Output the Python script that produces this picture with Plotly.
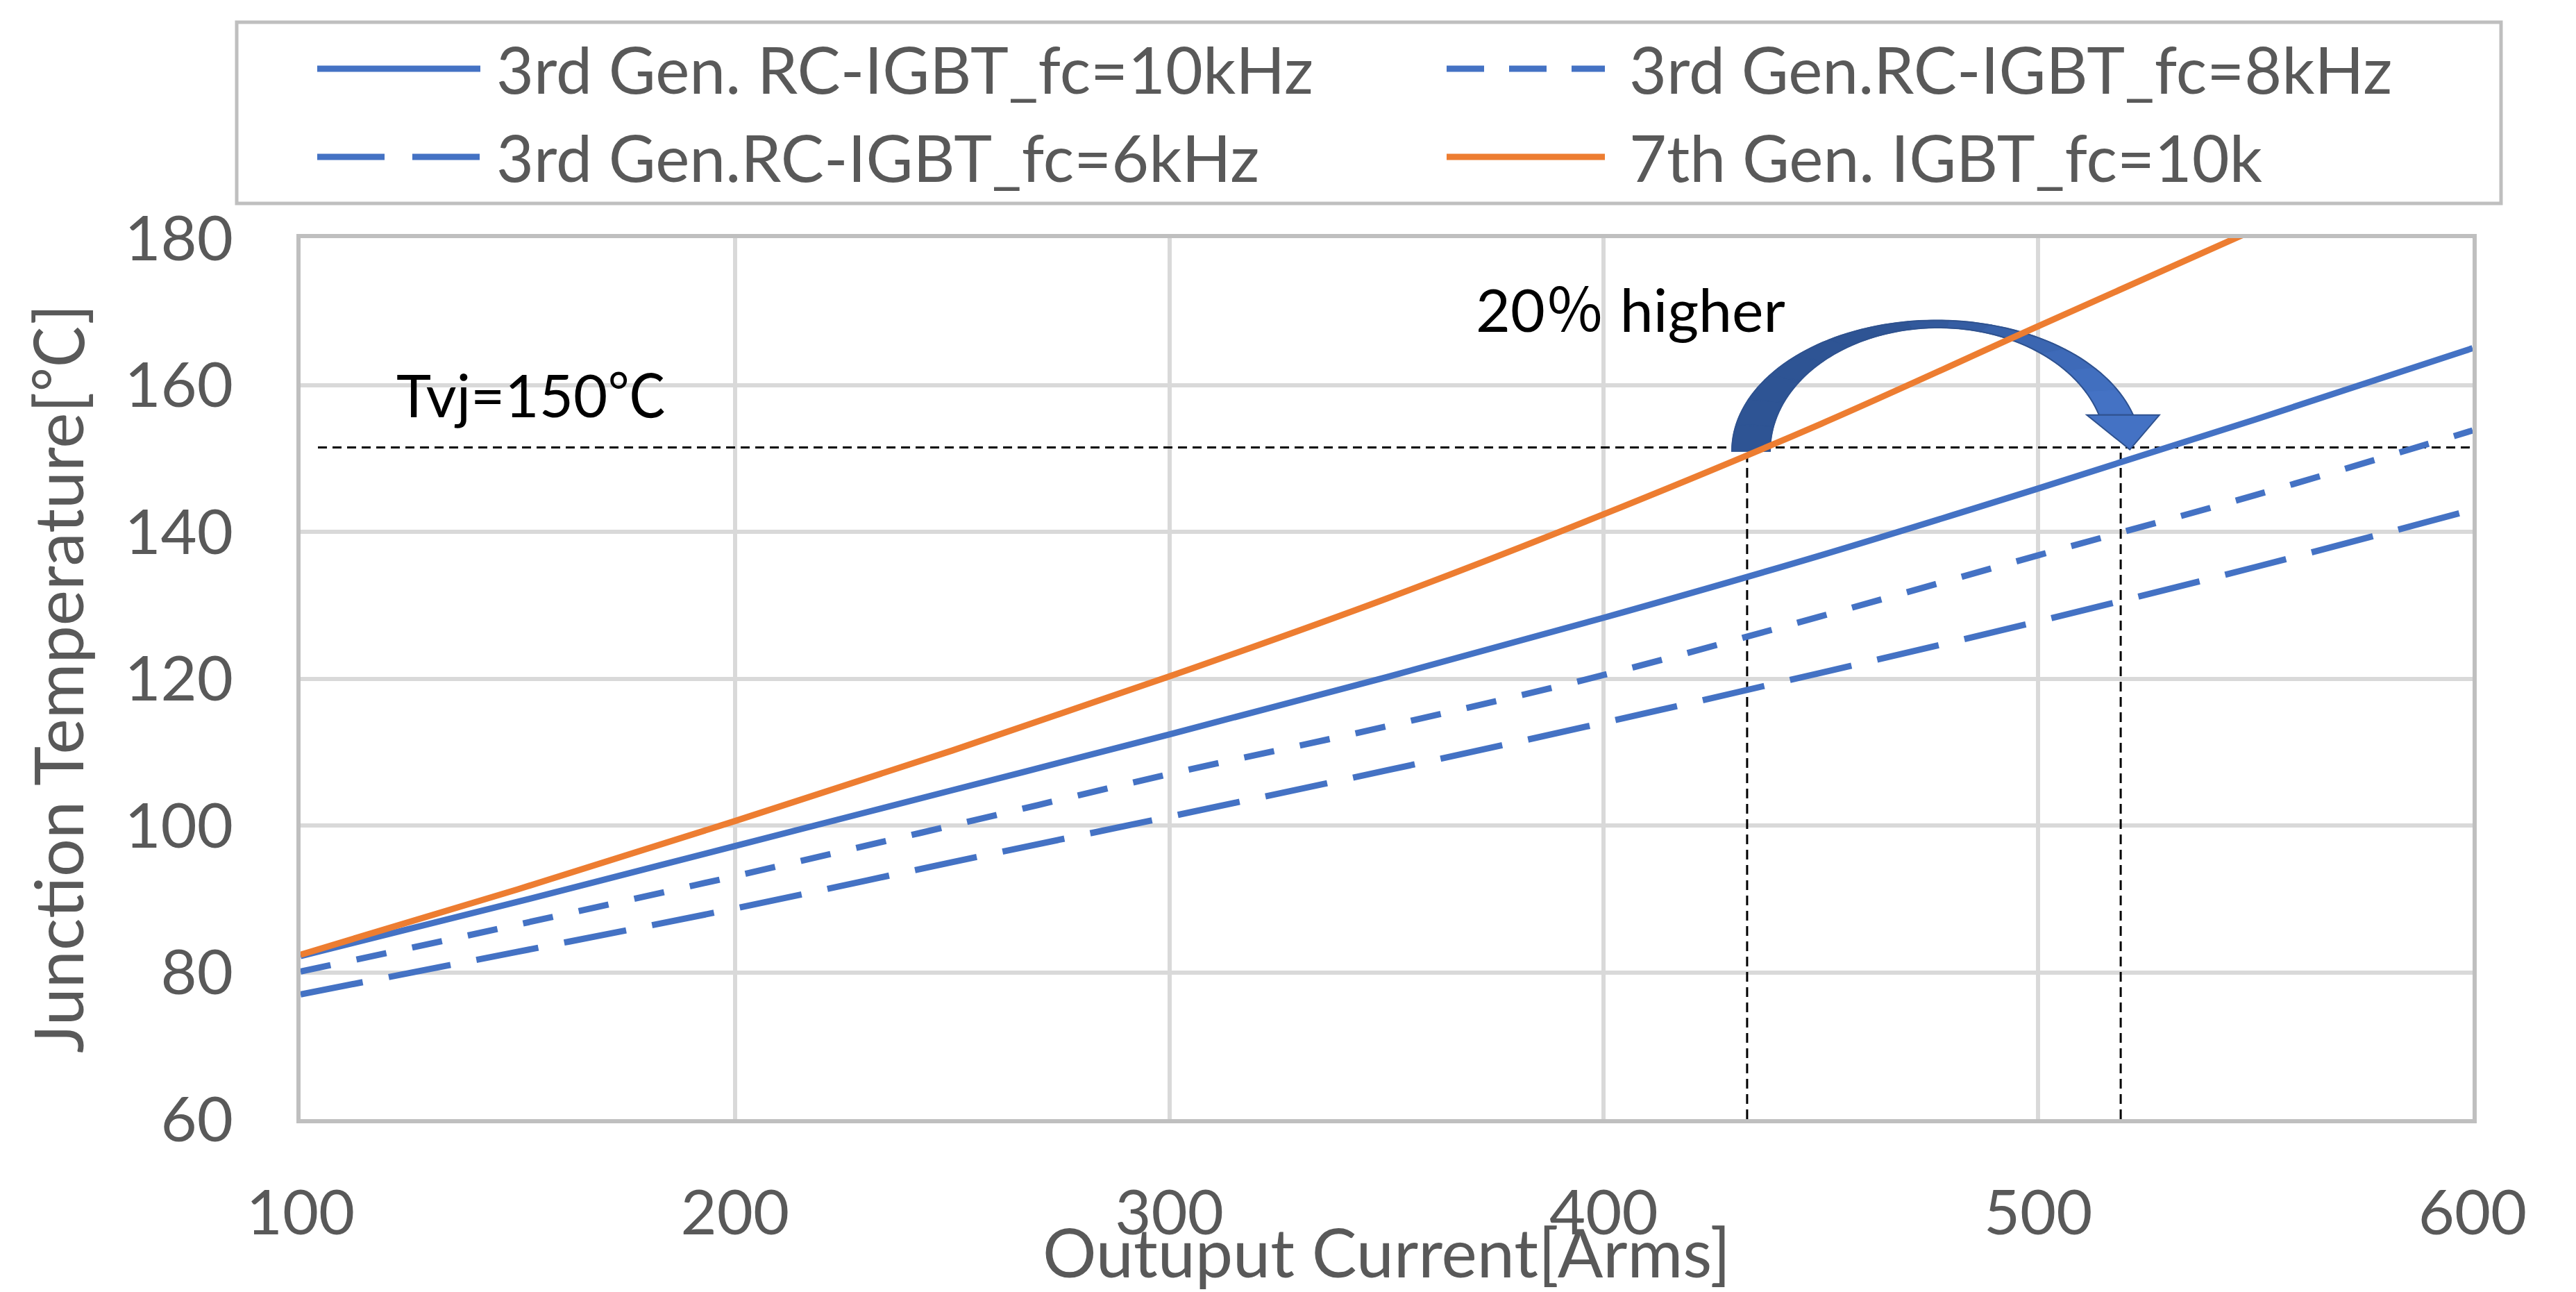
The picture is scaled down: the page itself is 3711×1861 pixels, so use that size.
import numpy as np
import plotly.graph_objects as go

# ---------------- data ----------------
current = [100, 150, 200, 250, 300, 350, 400, 450, 500, 550, 600]
rc_10k = [82.2, 89.6, 97.2, 104.8, 112.4, 120.2, 128.3, 136.8, 145.9, 155.3, 165.0]
rc_8k = [80.1, 86.5, 93.1, 100.0, 107.0, 113.5, 120.5, 128.5, 136.8, 145.0, 153.8]
rc_6k = [77.0, 82.8, 88.7, 95.0, 101.2, 107.5, 114.0, 120.8, 127.8, 135.2, 143.0]
current_7th = [100, 150, 200, 250, 300, 350, 400, 450, 500, 550]
igbt7_10k = [82.4, 91.3, 100.6, 110.2, 120.3, 130.9, 142.4, 154.7, 168.0, 181.2]

names = ["3rd Gen. RC-IGBT_fc=10kHz", "3rd Gen.RC-IGBT_fc=8kHz",
         "3rd Gen.RC-IGBT_fc=6kHz", "7th Gen. IGBT_fc=10k"]

x_ticks = [100, 200, 300, 400, 500, 600]
y_ticks = [60, 80, 100, 120, 140, 160, 180]

tvj_level = 151.5          # drawn position of the Tvj=150 C reference line
tvj_line_start = 104
cross_7th = 433            # current where 7th Gen crosses Tvj
cross_rc = 519             # current where RC-IGBT 10kHz crosses Tvj

BLUE = "#4472C4"
ORANGE = "#ED7D31"
TXT = "#595959"
FONT = "Lato, 'Noto Sans CJK JP', sans-serif"

W, H = 3711, 1861
L, R, T, B = 433, 3562, 343, 1612   # plot area in px


def pxx(px):
    return (px - L) / (R - L)


def pxy(py):
    return (B - py) / (B - T)


fig = go.Figure()

series = [
    (current, rc_10k, names[0], "solid"),
    (current, rc_8k, names[1], "44px,38px"),
    (current, rc_6k, names[2], "91px,38px"),
    (current_7th, igbt7_10k, names[3], "solid"),
]
colors = [BLUE, BLUE, BLUE, ORANGE]
for (xs, ys, nm, dash), c in zip(series, colors):
    fig.add_trace(go.Scatter(x=xs, y=ys, name=nm, mode="lines",
                             line=dict(color=c, width=9, dash=dash, shape="spline"),
                             showlegend=False))

shapes = []
# Tvj reference lines
shapes.append(dict(type="line", xref="x", yref="y", x0=tvj_line_start, x1=600,
                   y0=tvj_level, y1=tvj_level, layer="between",
                   line=dict(color="black", width=3, dash="13px,8px")))
for xc in (cross_7th, cross_rc):
    shapes.append(dict(type="line", xref="x", yref="y", x0=xc, x1=xc,
                       y0=60, y1=tvj_level, layer="between",
                       line=dict(color="black", width=3, dash="14px,8px")))

# curved arrow ("20% higher")
base_y = 151.0
head_y = 155.9
oc, oa, ob = 476.6, 47.1, 17.8
ic, ia, ib = 477.0, 38.7, 16.8
th_o_end = np.arcsin((head_y - base_y) / ob)
th_i_end = np.arcsin((head_y - base_y) / ib)


def arc_pts(c, a, b, th0, th1, n):
    th = np.linspace(th0, th1, n)
    return c + a * np.cos(th), base_y + b * np.sin(th)


def path_from(xs, ys):
    s = "M %.3f,%.3f " % (xs[0], ys[0])
    s += " ".join("L %.3f,%.3f" % (a, b) for a, b in zip(xs[1:], ys[1:]))
    return s + " Z"


dark = np.array([0x2E, 0x54, 0x94])
light = np.array([0x44, 0x72, 0xC4])
nseg = 14
ts = np.linspace(0, 1, nseg + 1)
for k in range(nseg):
    t0, t1 = ts[k], ts[k + 1]
    tm = (t0 + t1) / 2
    f = 0 if tm < 0.45 else min(1, (tm - 0.45) / 0.5)
    col = dark + (light - dark) * f
    colhex = "#%02X%02X%02X" % tuple(int(round(v)) for v in col)
    ox, oy = arc_pts(oc, oa, ob, np.pi + t0 * (th_o_end - np.pi),
                     np.pi + t1 * (th_o_end - np.pi), 12)
    ix, iy = arc_pts(ic, ia, ib, np.pi + t1 * (th_i_end - np.pi),
                     np.pi + t0 * (th_i_end - np.pi), 12)
    shapes.append(dict(type="path", xref="x", yref="y", layer="between",
                       path=path_from(np.r_[ox, ix], np.r_[oy, iy]),
                       fillcolor=colhex, line=dict(color=colhex, width=1.5)))
ox, oy = arc_pts(oc, oa, ob, np.pi, th_o_end, 80)
ix, iy = arc_pts(ic, ia, ib, th_i_end, np.pi, 80)
shapes.append(dict(type="path", xref="x", yref="y", layer="between",
                   path=path_from(np.r_[ox, ix], np.r_[oy, iy]),
                   line=dict(color="#2F528F", width=2)))
head_x = [511.2, 527.9, 521.1]
head_yy = [head_y, head_y, 151.2]
shapes.append(dict(type="path", xref="x", yref="y", layer="between",
                   path=path_from(head_x, head_yy),
                   fillcolor=BLUE, line=dict(color="#2F528F", width=2)))

# legend (drawn manually to match long line samples)
shapes.append(dict(type="rect", xref="paper", yref="paper",
                   x0=pxx(341), x1=pxx(3603), y0=pxy(293), y1=pxy(32),
                   fillcolor="white", line=dict(color="#BFBFBF", width=5)))
legend_items = [
    (names[0], BLUE, "solid", 457, 692, 713, 99),
    (names[1], BLUE, "54px,36px", 2084, 2312, 2345, 99),
    (names[2], BLUE, "97px,40px", 457, 692, 713, 226),
    (names[3], ORANGE, "solid", 2084, 2312, 2345, 226),
]
annotations = []
for nm, c, dash, sx0, sx1, tx, ty in legend_items:
    shapes.append(dict(type="line", xref="paper", yref="paper",
                       x0=pxx(sx0), x1=pxx(sx1), y0=pxy(ty), y1=pxy(ty),
                       line=dict(color=c, width=9, dash=dash)))
    annotations.append(dict(xref="paper", yref="paper", x=pxx(tx), y=pxy(ty),
                            text=nm, showarrow=False, xanchor="left", yanchor="middle",
                            font=dict(family=FONT, size=93, color=TXT)))

annotations.append(dict(xref="x", yref="y", x=153.1, y=158.7, text="Tvj=150℃",
                        showarrow=False, xanchor="center", yanchor="middle",
                        font=dict(family=FONT, size=85, color="black")))
annotations.append(dict(xref="x", yref="y", x=406.2, y=170.4, text="20％ higher",
                        showarrow=False, xanchor="center", yanchor="middle",
                        font=dict(family=FONT, size=86, color="black")))

fig.update_layout(
    width=W, height=H,
    margin=dict(l=L, r=W - R, t=T, b=H - B, autoexpand=False),
    paper_bgcolor="white", plot_bgcolor="white",
    font=dict(family=FONT, color=TXT),
    shapes=shapes, annotations=annotations,
    showlegend=False,
)
fig.update_xaxes(range=[100, 600], tickvals=x_ticks, ticktext=[str(v) for v in x_ticks],
                 showgrid=True, gridcolor="#D9D9D9", gridwidth=6,
                 showline=True, linecolor="#BFBFBF", linewidth=6, mirror=True,
                 zeroline=False, ticks="", ticklabelstandoff=52,
                 tickfont=dict(family=FONT, size=90, color=TXT),
                 title=dict(text="Outuput Current[Arms]", standoff=0,
                            font=dict(family=FONT, size=97, color=TXT)))
fig.update_yaxes(range=[60, 180], tickvals=y_ticks, ticktext=[str(v) for v in y_ticks],
                 showgrid=True, gridcolor="#D9D9D9", gridwidth=6,
                 showline=True, linecolor="#BFBFBF", linewidth=6, mirror=True,
                 zeroline=False, ticks="", ticklabelstandoff=73,
                 tickfont=dict(family=FONT, size=90, color=TXT),
                 title=dict(text="Junction Temperature[℃]", standoff=28,
                            font=dict(family=FONT, size=97, color=TXT)))

fig.write_html("out.html")
